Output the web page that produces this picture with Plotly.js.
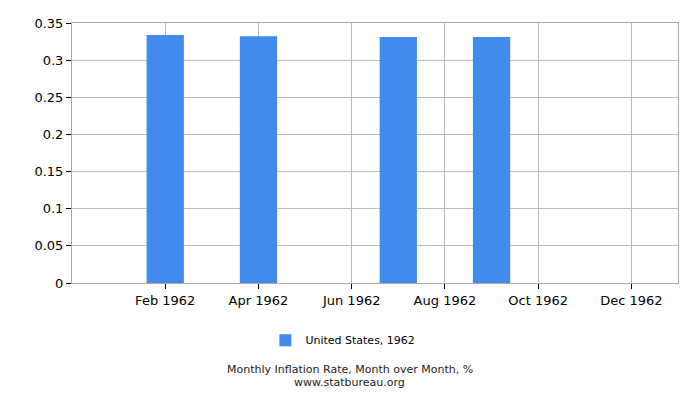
<!DOCTYPE html>
<html>
<head>
<meta charset="utf-8">
<script src="https://cdn.plot.ly/plotly-3.0.1.min.js"></script>
<style>
body { margin: 0; background: #fff; }
#chart { width: 700px; height: 400px; }
</style>
</head>
<body>
<div id="chart"></div>
<script>
var months = [1, 2, 3, 4, 5, 6, 7, 8, 9, 10, 11, 12];
var rates = [0, 0.334, 0, 0.332, 0, 0, 0.331, 0, 0.331, 0, 0, 0];
var tickPos = [2, 4, 6, 8, 10, 12];
var tickText = ['Feb 1962', 'Apr 1962', 'Jun 1962', 'Aug 1962', 'Oct 1962', 'Dec 1962'];

var trace = {
  x: months,
  y: rates,
  type: 'bar',
  name: 'United States, 1962',
  width: 0.8,
  marker: { color: '#428bee' },
  hoverinfo: 'none'
};

var layout = {
  width: 700,
  height: 400,
  margin: { l: 72, r: 22, t: 23, b: 117 },
  paper_bgcolor: '#fff',
  plot_bgcolor: '#fff',
  font: { family: 'DejaVu Sans', size: 13, color: '#000' },
  showlegend: true,
  legend: {
    orientation: 'h',
    x: 0.447, xanchor: 'center',
    y: -0.22, yanchor: 'middle',
    font: { size: 11 }
  },
  xaxis: {
    range: [0, 13],
    tickvals: tickPos,
    ticktext: tickText,
    ticks: 'outside',
    ticklen: 5,
    tickcolor: '#000',
    showgrid: true,
    gridcolor: '#bbb',
    showline: true,
    linecolor: '#aaa',
    mirror: true,
    zeroline: false,
    fixedrange: true
  },
  yaxis: {
    range: [0, 0.35],
    dtick: 0.05,
    tick0: 0,
    ticks: 'outside',
    ticklen: 5,
    tickcolor: '#000',
    showgrid: true,
    gridcolor: '#bbb',
    showline: true,
    linecolor: '#aaa',
    mirror: true,
    zeroline: false,
    fixedrange: true
  },
  annotations: [
    {
      text: 'Monthly Inflation Rate, Month over Month, %',
      xref: 'paper', yref: 'paper',
      x: 0.4587, y: -0.3327, xanchor: 'center', yanchor: 'middle',
      showarrow: false, borderpad: 0,
      font: { size: 11, color: '#222' }
    },
    {
      text: 'www.statbureau.org',
      xref: 'paper', yref: 'paper',
      x: 0.4587, y: -0.3827, xanchor: 'center', yanchor: 'middle',
      showarrow: false, borderpad: 0,
      font: { size: 11, color: '#222' }
    }
  ]
};

Plotly.newPlot('chart', [trace], layout, { displayModeBar: false, staticPlot: true });
</script>
</body>
</html>
